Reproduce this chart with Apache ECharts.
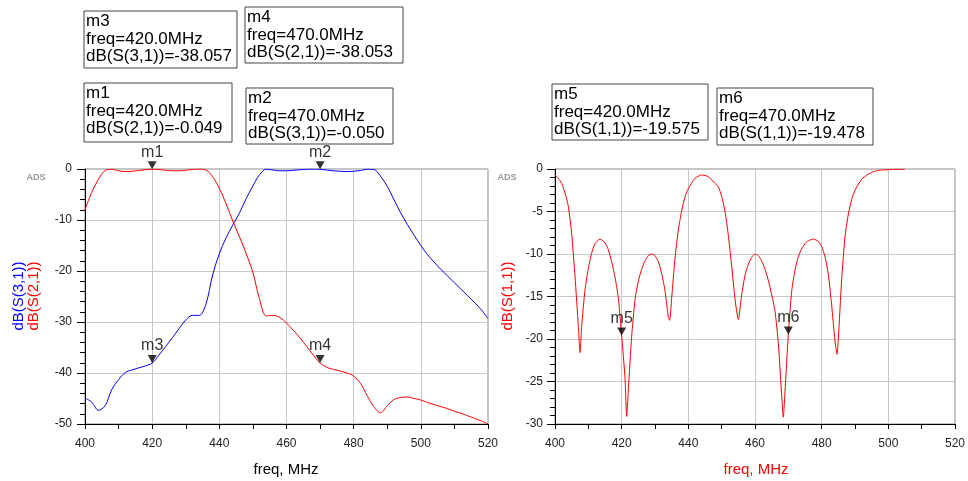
<!DOCTYPE html>
<html><head><meta charset="utf-8">
<script src="https://cdn.jsdelivr.net/npm/echarts@6/dist/echarts.min.js"></script>
<style>html,body{margin:0;padding:0;background:#fff}#c{width:968px;height:481px}</style>
</head><body><div id="c"></div>
<script>
// ---- data ----
const freqL = [400,402,404,406,408,410,412,414,416,418,420,422,424,426,428,430,432,434,436,438,440,442,444,446,448,450,452,454,456,458,460,462,464,466,468,470,472,474,476,478,480,482,484,486,488,490,492,494,496,498,500,502,504,506,508,510,512,514,516,518,520];
const s21 = [-8.0,-4.6,-2.0,-0.3,-0.05,-0.35,-0.5,-0.45,-0.3,-0.12,-0.049,-0.1,-0.25,-0.35,-0.35,-0.25,-0.1,-0.02,-0.2,-1.5,-3.8,-6.8,-10.2,-13.3,-16.6,-20.3,-25.6,-28.8,-28.7,-29.1,-30.2,-31.6,-33.1,-34.8,-36.5,-38.053,-38.9,-39.3,-39.6,-40.0,-40.6,-42.0,-44.4,-46.6,-47.8,-46.4,-45.2,-44.8,-44.7,-45.0,-45.3,-45.8,-46.2,-46.6,-47.0,-47.5,-47.9,-48.4,-48.9,-49.4,-50.0];
const s31 = [-44.9,-45.7,-47.3,-46.4,-43.2,-41.3,-39.9,-39.4,-39.0,-38.6,-38.057,-36.5,-34.8,-33.1,-31.3,-29.6,-28.7,-28.7,-26.5,-20.8,-16.6,-13.5,-11.0,-8.6,-5.8,-3.3,-1.1,-0.05,-0.2,-0.35,-0.35,-0.25,-0.15,-0.05,-0.02,-0.05,-0.2,-0.35,-0.45,-0.5,-0.45,-0.3,-0.05,-0.1,-1.4,-3.4,-6.0,-8.6,-10.9,-13.0,-15.0,-16.8,-18.3,-19.7,-21.0,-22.3,-23.6,-24.9,-26.2,-27.6,-29.3];
const freqR = [400,401,402,403,404,405,406,407,407.5,408,409,410,411,412,413.5,415,416,417,418,419,420,421,421.5,422,423,424,425,426,427,428,429,430,431,432,433,434,434.4,435,436,437,438,439,440,442,444,446,448,449,450,451,452,453,454,455,456,457,458,459,460,461,462,463,464,465,466,467,468,468.5,469,470,471,472,473,474,475,476,477.5,479,480,481,482,483,484,484.6,485,486,487,488,489,490,492,494,496,498,500,502,505];
const s11 = [-0.7,-1.1,-1.7,-2.8,-4.4,-7.6,-12.6,-18.5,-21.6,-18.5,-14.2,-11.7,-9.9,-8.8,-8.25,-8.7,-9.5,-10.9,-12.7,-15.2,-19.575,-24.6,-29.1,-26.0,-19.7,-15.4,-13.2,-11.8,-10.8,-10.2,-10.0,-10.2,-10.9,-12.3,-14.3,-17.4,-17.8,-15.2,-10.5,-7.2,-4.9,-3.3,-2.3,-1.1,-0.7,-0.9,-1.7,-2.1,-3.2,-5.0,-7.8,-11.4,-15.3,-17.7,-14.8,-12.5,-11.2,-10.4,-10.0,-10.2,-10.8,-11.8,-13.1,-14.8,-16.7,-20.5,-26.6,-29.2,-26.2,-19.478,-14.4,-11.9,-10.3,-9.4,-8.8,-8.45,-8.25,-8.5,-9.1,-10.3,-12.4,-16.0,-20.2,-21.8,-20.0,-13.0,-8.0,-5.3,-3.6,-2.5,-1.2,-0.6,-0.25,-0.12,-0.08,-0.05,-0.03];
const xTicks = [400,420,440,460,480,500,520];
const yTicksL = [0,-10,-20,-30,-40,-50];
const yTicksR = [0,-5,-10,-15,-20,-25,-30];
// markers
const mNames = ['m1','m2','m3','m4','m5','m6'];
const mFreq  = [420.0,470.0,420.0,470.0,420.0,470.0];
const mVal   = [-0.049,-0.050,-38.057,-38.053,-19.575,-19.478];
const mExpr  = ['dB(S(2,1))','dB(S(3,1))','dB(S(3,1))','dB(S(2,1))','dB(S(1,1))','dB(S(1,1))'];
const mGrid  = [0,0,0,0,1,1];

const zip = (a,b)=>a.map((v,i)=>[v,b[i]]);
const FONT = '"Liberation Sans", Arial, sans-serif';

function xAx(gi){
  return {gridIndex:gi,type:'value',min:xTicks[0],max:xTicks[xTicks.length-1],interval:20,
    axisLine:{show:true,onZero:false,lineStyle:{color:'#000',width:1}},
    axisTick:{show:true,length:5,lineStyle:{color:'#000'}},
    minorTick:{show:true,splitNumber:2,length:5,lineStyle:{color:'#000'}},
    axisLabel:{margin:14,fontSize:12,color:'#222',fontFamily:FONT},
    splitLine:{show:true,lineStyle:{color:'#c8c8c8',width:1}}};
}
function yAx(gi,ticks,iv,margin){
  return {gridIndex:gi,type:'value',min:ticks[ticks.length-1],max:ticks[0],interval:iv,
    axisLine:{show:true,onZero:false,lineStyle:{color:'#000',width:1}},
    axisTick:{show:true,length:8,lineStyle:{color:'#000'}},
    minorTick:{show:true,splitNumber:5,length:5,lineStyle:{color:'#000'}},
    axisLabel:{margin:margin,fontSize:12,color:'#222',fontFamily:FONT},
    splitLine:{show:true,lineStyle:{color:'#c8c8c8',width:1}}};
}

const markerSeries = [0,1].map(g=>({
  type:'scatter',xAxisIndex:g,yAxisIndex:g,z:10,
  symbol:'path://M0,0L10,0L5,9Z',symbolSize:[9,8],symbolOffset:[0,-4],
  itemStyle:{color:'#000'},
  label:{show:true,position:'top',distance:1,fontSize:16,fontFamily:FONT,color:'#000',formatter:p=>p.data.name},
  data:mNames.map((n,i)=>({name:n,value:[mFreq[i],mVal[i]],g:mGrid[i]})).filter(d=>d.g===g)
}));

const boxes = [
  {i:2,x:84,y:11,w:153,h:57},
  {i:3,x:245,y:7,w:158,h:56},
  {i:0,x:84,y:83,w:148,h:59},
  {i:1,x:246,y:88,w:147,h:56},
  {i:4,x:552,y:84,w:156,h:56},
  {i:5,x:717,y:88,w:156,h:57}
];
const graphics = [];
boxes.forEach(b=>{
  const i=b.i;
  graphics.push({type:'rect',shape:{x:b.x,y:b.y,width:b.w,height:b.h},style:{fill:'#fff',stroke:'#444',lineWidth:1},z:20});
  graphics.push({type:'text',x:b.x+2,y:b.y+2,z:21,style:{
    text:mNames[i]+'\nfreq='+mFreq[i].toFixed(1)+'MHz\n'+mExpr[i]+'='+mVal[i].toFixed(3),
    font:'17px '+FONT,fill:'#000',lineHeight:17.5}});
});
graphics.push({type:'text',x:36,y:178,style:{text:'ADS',font:'bold 9px '+FONT,fill:'#9a9a9a',textAlign:'center',textVerticalAlign:'middle'}});
graphics.push({type:'text',x:507,y:178,style:{text:'ADS',font:'bold 9px '+FONT,fill:'#9a9a9a',textAlign:'center',textVerticalAlign:'middle'}});
graphics.push({type:'text',x:19,y:296,rotation:Math.PI/2,style:{text:'dB(S(3,1))',font:'15px '+FONT,fill:'#0000ff',textAlign:'center',textVerticalAlign:'middle'}});
graphics.push({type:'text',x:34,y:296,rotation:Math.PI/2,style:{text:'dB(S(2,1))',font:'15px '+FONT,fill:'#ff0000',textAlign:'center',textVerticalAlign:'middle'}});
graphics.push({type:'text',x:508,y:296,rotation:Math.PI/2,style:{text:'dB(S(1,1))',font:'15px '+FONT,fill:'#ff0000',textAlign:'center',textVerticalAlign:'middle'}});
graphics.push({type:'text',x:286,y:470,style:{text:'freq, MHz',font:'15px '+FONT,fill:'#000',textAlign:'center',textVerticalAlign:'middle'}});
graphics.push({type:'text',x:756,y:470,style:{text:'freq, MHz',font:'15px '+FONT,fill:'#ff0000',textAlign:'center',textVerticalAlign:'middle'}});

const chart = echarts.init(document.getElementById('c'),null,{renderer:'canvas'});
chart.setOption({
  animation:false,
  backgroundColor:'#fff',
  textStyle:{fontFamily:FONT},
  grid:[
    {left:85,top:169,width:403,height:255,show:true,borderColor:'#8a8a8a',borderWidth:1,backgroundColor:'transparent'},
    {left:555,top:169,width:404,height:255,show:true,borderColor:'#8a8a8a',borderWidth:1,backgroundColor:'transparent'}
  ],
  xAxis:[xAx(0),xAx(1)],
  yAxis:[yAx(0,yTicksL,10,13),yAx(1,yTicksR,5,12)],
  series:[
    {type:'line',xAxisIndex:0,yAxisIndex:0,data:zip(freqL,s31),symbol:'none',smooth:0.35,lineStyle:{color:'#0000ff',width:1},z:3},
    {type:'line',xAxisIndex:0,yAxisIndex:0,data:zip(freqL,s21),symbol:'none',smooth:0.35,lineStyle:{color:'#ff0000',width:1},z:4},
    {type:'line',xAxisIndex:1,yAxisIndex:1,data:zip(freqR,s11),symbol:'none',smooth:0.2,lineStyle:{color:'#ff0000',width:1},z:4},
    ...markerSeries
  ],
  graphic:graphics
});
</script></body></html>
